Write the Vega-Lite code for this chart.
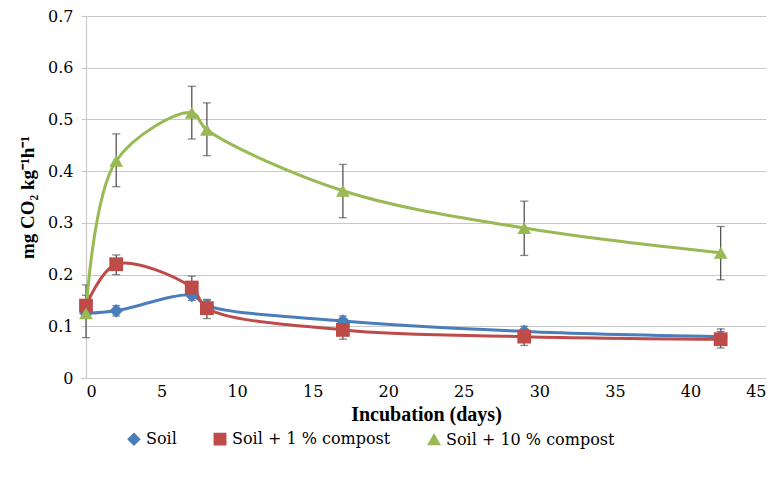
{
  "$schema": "https://vega.github.io/schema/vega-lite/v6.json",
  "width": 680,
  "height": 362,
  "padding": {"left": 18, "top": 8, "right": 10, "bottom": 5},
  "background": "white",
  "config": {
    "font": "Liberation Serif",
    "view": {"stroke": null},
    "axis": {"labelFont": "DejaVu Serif", "titleFont": "Liberation Serif", "labelFontSize": 16, "titleFontSize": 19, "labelColor": "#000", "titleColor": "#000"},
    "legend": {"labelFont": "DejaVu Serif", "labelFontSize": 16, "labelColor": "#000", "labelLimit": 400}
  },
  "data": {"values": [
    {"day": 0, "series": "Soil", "v": 0.125, "lo": 0.118, "hi": 0.132},
    {"day": 2, "series": "Soil", "v": 0.13, "lo": 0.12, "hi": 0.14},
    {"day": 7, "series": "Soil", "v": 0.16, "lo": 0.15, "hi": 0.17},
    {"day": 8, "series": "Soil", "v": 0.14, "lo": 0.13, "hi": 0.152},
    {"day": 17, "series": "Soil", "v": 0.11, "lo": 0.1, "hi": 0.12},
    {"day": 29, "series": "Soil", "v": 0.09, "lo": 0.08, "hi": 0.1},
    {"day": 42, "series": "Soil", "v": 0.08, "lo": 0.072, "hi": 0.09},
    {"day": 0, "series": "Soil + 1 % compost", "v": 0.14, "lo": 0.12, "hi": 0.16},
    {"day": 2, "series": "Soil + 1 % compost", "v": 0.22, "lo": 0.2, "hi": 0.238},
    {"day": 7, "series": "Soil + 1 % compost", "v": 0.175, "lo": 0.155, "hi": 0.197},
    {"day": 8, "series": "Soil + 1 % compost", "v": 0.135, "lo": 0.115, "hi": 0.15},
    {"day": 17, "series": "Soil + 1 % compost", "v": 0.093, "lo": 0.075, "hi": 0.11},
    {"day": 29, "series": "Soil + 1 % compost", "v": 0.08, "lo": 0.063, "hi": 0.095},
    {"day": 42, "series": "Soil + 1 % compost", "v": 0.075, "lo": 0.058, "hi": 0.095},
    {"day": 0, "series": "Soil + 10 % compost", "v": 0.125, "lo": 0.078, "hi": 0.18},
    {"day": 2, "series": "Soil + 10 % compost", "v": 0.42, "lo": 0.37, "hi": 0.472},
    {"day": 7, "series": "Soil + 10 % compost", "v": 0.513, "lo": 0.462, "hi": 0.564},
    {"day": 8, "series": "Soil + 10 % compost", "v": 0.48, "lo": 0.43, "hi": 0.532},
    {"day": 17, "series": "Soil + 10 % compost", "v": 0.362, "lo": 0.31, "hi": 0.413},
    {"day": 29, "series": "Soil + 10 % compost", "v": 0.29, "lo": 0.237, "hi": 0.342},
    {"day": 42, "series": "Soil + 10 % compost", "v": 0.242, "lo": 0.19, "hi": 0.293}
  ]},
  "encoding": {
    "x": {"field": "day", "type": "quantitative", "scale": {"domain": [0, 45], "nice": false}, "axis": {"values": [0,5,10,15,20,25,30,35,40,45], "title": "Incubation (days)", "titleFontWeight": "bold", "titleFontSize": 20, "grid": false, "domain": false, "ticks": false, "labelPadding": 5, "titlePadding": 5}},
    "y": {"field": "v", "type": "quantitative", "scale": {"domain": [0, 0.7], "nice": false}, "axis": {"values": [0,0.1,0.2,0.3,0.4,0.5,0.6,0.7], "format": "~g", "title": "mg CO₂ kg⁻¹h⁻¹", "titleFontWeight": "bold", "grid": true, "gridColor": "#c8c8c8", "gridWidth": 1.2, "domainColor": "#c8c8c8", "domainWidth": 1.2, "ticks": true, "tickColor": "#c8c8c8", "tickSize": 5, "tickWidth": 1.2, "labelPadding": 8, "titlePadding": 10}},
    "color": {"field": "series", "type": "nominal", "scale": {"domain": ["Soil", "Soil + 1 % compost", "Soil + 10 % compost"], "range": ["#4a7ebb", "#be4b48", "#98b954"]}, "legend": {"orient": "none", "legendX": 40, "legendY": 415, "direction": "horizontal", "title": null, "symbolSize": 130, "columnPadding": 34}}
  },
  "layer": [
    {"mark": {"type": "rule", "color": "#555", "strokeWidth": 1.3}, "encoding": {"color": {"value": "#555"}, "y": {"field": "lo", "type": "quantitative"}, "y2": {"field": "hi"}}},
    {"mark": {"type": "tick", "color": "#555", "thickness": 1.3, "size": 8, "orient": "horizontal"}, "encoding": {"color": {"value": "#555"}, "y": {"field": "lo", "type": "quantitative"}}},
    {"mark": {"type": "tick", "color": "#555", "thickness": 1.3, "size": 8, "orient": "horizontal"}, "encoding": {"color": {"value": "#555"}, "y": {"field": "hi", "type": "quantitative"}}},
    {"mark": {"type": "line", "interpolate": "catmull-rom", "strokeWidth": 3}},
    {"mark": {"type": "point", "filled": true, "opacity": 1, "size": 190}, "encoding": {
      "shape": {"field": "series", "type": "nominal", "scale": {"domain": ["Soil", "Soil + 1 % compost", "Soil + 10 % compost"], "range": ["diamond", "square", "triangle-up"]}, "legend": {"orient": "none", "legendX": 40, "legendY": 415, "direction": "horizontal", "title": null, "symbolSize": 130, "columnPadding": 34}}
    }}
  ]
}
